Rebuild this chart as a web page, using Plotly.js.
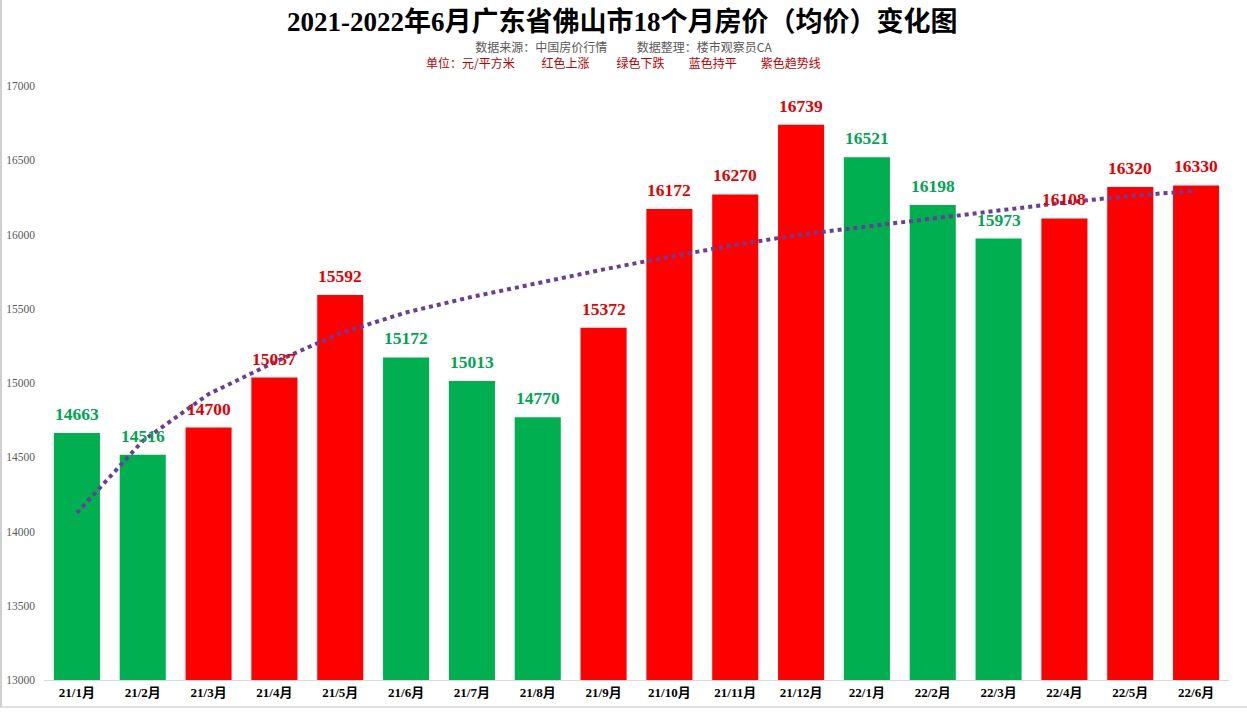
<!DOCTYPE html>
<html>
<head>
<meta charset="utf-8">
<script src="https://cdn.plot.ly/plotly-3.0.1.min.js"></script>
<style>
html,body{margin:0;padding:0;background:#fff;}
#wrap{position:relative;width:1247px;height:713px;}
#chart{width:1247px;height:713px;}
#frame{position:absolute;left:0;top:0;width:1245px;height:706px;border-left:2px solid #d0d0d0;border-bottom:2px solid #e0e0e0;pointer-events:none;}
</style>
</head>
<body>
<div id="wrap"><div id="chart"></div><div id="frame"></div></div>
<script>
const months = ["21/1月","21/2月","21/3月","21/4月","21/5月","21/6月","21/7月","21/8月","21/9月","21/10月","21/11月","21/12月","22/1月","22/2月","22/3月","22/4月","22/5月","22/6月"];
const prices = [14663,14516,14700,15037,15592,15172,15013,14770,15372,16172,16270,16739,16521,16198,15973,16108,16320,16330];
const trend = [14125,14610,14925,15140,15335,15475,15580,15675,15765,15850,15930,16000,16055,16110,16165,16215,16260,16295];
const yTicks = [13000,13500,14000,14500,15000,15500,16000,16500,17000];

const RED = "#FF0000", GREEN = "#00B050";
const barColors = prices.map((v,i)=> (i===0 || v < prices[i-1]) ? GREEN : RED);
const textColors = barColors.map(c => c===GREEN ? "#00A651" : "#E60000");

const serif = "'Liberation Serif','Times New Roman','Noto Sans CJK SC',serif";
const cjk = "'Noto Sans CJK SC','Liberation Serif',serif";

const bars = {
  type: "bar",
  x: months,
  y: prices,
  marker: {color: barColors},
  width: 0.7,
  hoverinfo: "x+y",
  showlegend: false
};

const trendLine = {
  type: "scatter",
  mode: "lines",
  x: months,
  y: trend,
  line: {color: "#6A3D9A", width: 4, dash: "dot"},
  hoverinfo: "skip",
  showlegend: false
};

const valueLabels = months.map((m,i)=>({
  xref: "x", yref: "y", x: m, y: prices[i],
  yshift: 19, xanchor: "center", yanchor: "middle", showarrow: false,
  text: "<b>" + prices[i] + "</b>",
  font: {family: serif, size: 17.5, color: textColors[i]}
}));

const sp = n => "&nbsp;".repeat(n);
const subText =
  '<span style="color:#595959">数据来源：中国房价行情' + sp(11) + '数据整理：楼市观察员CA</span><br>' +
  '<span style="color:#C00000">单位：元/平方米' + sp(10) + '红色上涨' + sp(10) + '绿色下跌' + sp(9) + '蓝色持平' + sp(9) + '紫色趋势线</span>';

const layout = {
  width: 1247,
  height: 713,
  margin: {l: 44, r: 18, t: 86, b: 33},
  paper_bgcolor: "#ffffff",
  plot_bgcolor: "#ffffff",
  showlegend: false,
  xaxis: {
    type: "category",
    showgrid: false,
    showline: true,
    linecolor: "#d9d9d9",
    linewidth: 1,
    ticks: "",
    tickfont: {family: serif, size: 13, color: "#000", weight: "bold"},
    zeroline: false
  },
  yaxis: {
    range: [13000, 17000],
    tickvals: yTicks,
    ticktext: yTicks.map(String),
    showgrid: false,
    zeroline: false,
    showline: false,
    ticks: "",
    ticklabelstandoff: 8,
    tickfont: {family: serif, size: 11.5, color: "#595959"}
  },
  annotations: [
    {xref: "paper", yref: "paper", x: 0.4886, y: 1.1077, xanchor: "center", yanchor: "middle", showarrow: false,
     text: "<b>2021-2022年6月广东省佛山市18个月房价（均价）变化图</b>",
     font: {family: serif, size: 27, color: "#000"}},
    {xref: "paper", yref: "paper", x: 0.4890, y: 1.0530, xanchor: "center", yanchor: "middle", showarrow: false,
     align: "center", text: subText,
     font: {family: cjk, size: 12, color: "#595959"}}
  ].concat(valueLabels)
};

Plotly.newPlot("chart", [bars, trendLine], layout, {displayModeBar: false, staticPlot: true});
</script>
</body>
</html>
